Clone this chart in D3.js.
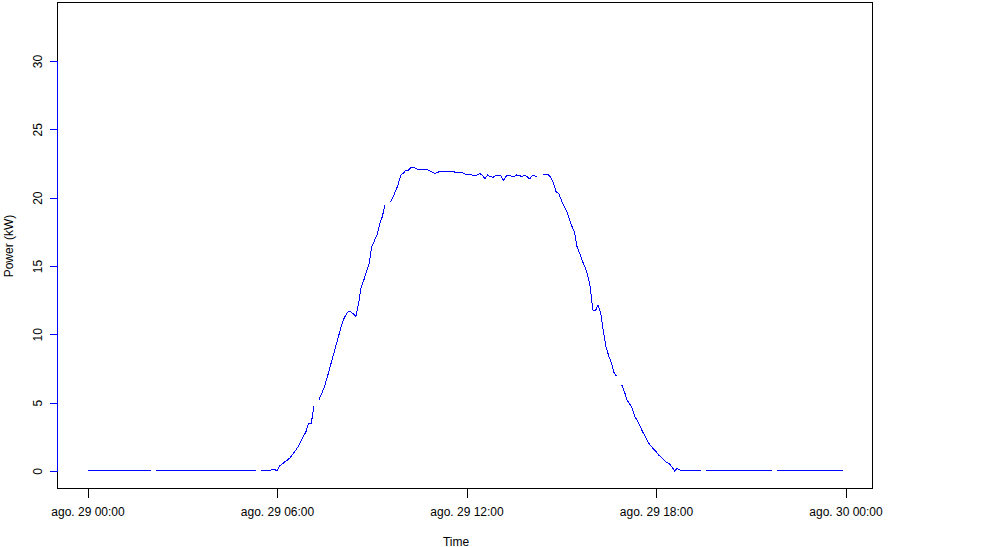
<!DOCTYPE html>
<html>
<head>
<meta charset="utf-8">
<script src="https://cdn.jsdelivr.net/npm/d3@7"></script>
<style>
  html, body { margin: 0; padding: 0; background: #fff; }
  svg { display: block; }
  text { font-family: "Liberation Sans", Arial, sans-serif; }
</style>
</head>
<body>
<svg id="chart" width="988" height="547"></svg>
<script>
// ---- data: 5-minute power readings (kW) for ago. 29, null = missing ----
const startTime = new Date(2019, 7, 29, 0, 0);
const stepMinutes = 5;
const power = [
  // 00h
  0,0,0,0,0,0,0,0,0,0,0,0,
  // 01h
  0,0,0,0,0,0,0,0,0,0,0,0,
  // 02h
  0,null,0,0,0,0,0,0,0,0,0,0,
  // 03h
  0,0,0,0,0,0,0,0,0,0,0,0,
  // 04h
  0,0,0,0,0,0,0,0,0,0,0,0,
  // 05h
  0,0,0,0,0,null,0,0,0,0,0.1,0.12,
  // 06h
  0,0.37,0.51,0.68,0.8,0.98,1.24,1.49,1.78,2.15,2.51,2.88,
  // 07h
  3.49,3.46,4.72,null,5.24,5.68,6.17,6.8,7.5,8.2,8.9,9.6,
  // 08h
  10.3,10.97,11.37,11.66,11.64,11.49,11.29,12.27,13.49,13.98,14.58,15.2,
  // 09h
  16.41,16.85,17.27,18.07,18.61,19.46,null,19.66,20.0,20.49,20.93,21.66,
  // 10h
  21.78,22.02,22.02,22.22,22.22,22.1,22.07,22.07,22.07,22.07,21.97,21.85,
  // 11h
  21.78,21.83,21.95,21.88,21.95,21.9,21.95,21.9,21.85,21.85,21.85,21.78,
  // 12h
  21.66,21.7,21.66,21.61,21.66,21.76,21.66,21.37,21.66,21.54,21.49,21.59,
  // 13h
  21.66,21.61,21.24,21.58,21.61,21.58,21.54,21.66,21.63,21.54,21.63,21.54,
  // 14h
  21.37,21.63,21.58,21.49,null,21.66,21.73,21.71,21.49,21.12,20.44,20.32,
  // 15h
  19.83,19.39,19.02,18.49,17.93,17.51,16.41,15.93,15.37,14.95,14.34,13.49,
  // 16h
  11.78,11.73,12.15,11.54,10.2,9.1,8.44,7.93,7.22,6.93,null,6.29,
  // 17h
  5.8,5.2,4.9,4.59,3.93,3.68,3.24,2.83,2.51,2.1,1.85,1.61,
  // 18h
  1.41,1.17,1.0,0.8,0.63,0.53,0.32,0,0.19,0.07,0,0,
  // 19h
  0,0,0,0,0,0,null,0,0,0,0,0,
  // 20h
  0,0,0,0,0,0,0,0,0,0,0,0,
  // 21h
  0,0,0,0,0,0,0,0,0,null,0,0,
  // 22h
  0,0,0,0,0,0,0,0,0,0,0,0,
  // 23h
  0,0,0,0,0,0,0,0,0,0,0,0
];
const yLimits = [0, 33];
const yTicks = [0, 5, 10, 15, 20, 25, 30];
const xTickDates = [
  new Date(2019, 7, 29, 0, 0),
  new Date(2019, 7, 29, 6, 0),
  new Date(2019, 7, 29, 12, 0),
  new Date(2019, 7, 29, 18, 0),
  new Date(2019, 7, 30, 0, 0)
];
const xTickLabels = ["ago. 29 00:00", "ago. 29 06:00", "ago. 29 12:00", "ago. 29 18:00", "ago. 30 00:00"];
const xLabel = "Time";
const yLabel = "Power (kW)";

// ---- build ----
const data = power.map((v, i) => ({ t: new Date(startTime.getTime() + i * stepMinutes * 60000), v }));

const svg = d3.select("#chart");
const box = { left: 57.5, right: 872.5, top: 2.5, bottom: 488.5 };

const tMin = data[0].t.getTime(), tMax = data[data.length - 1].t.getTime();
const tExt = (tMax - tMin) * 0.04;
const x = d3.scaleTime()
  .domain([new Date(tMin - tExt), new Date(tMax + tExt)])
  .range([57.3, 873.1]);

const yExt = (yLimits[1] - yLimits[0]) * 0.04;
const y = d3.scaleLinear()
  .domain([yLimits[0] - yExt, yLimits[1] + yExt])
  .range([489, 2]);

// data line
const line = d3.line()
  .defined(d => d.v !== null)
  .x(d => x(d.t))
  .y(d => y(d.v));

svg.append("path")
  .datum(data)
  .attr("d", line)
  .attr("fill", "none")
  .attr("stroke", "#0000ff")
  .attr("stroke-width", 1)
  .attr("shape-rendering", "crispEdges");

// box
svg.append("rect")
  .attr("x", box.left).attr("y", box.top)
  .attr("width", box.right - box.left).attr("height", box.bottom - box.top)
  .attr("fill", "none").attr("stroke", "#000").attr("stroke-width", 1)
  .attr("shape-rendering", "crispEdges");

// x axis
const xAxis = d3.axisBottom(x)
  .tickValues(xTickDates)
  .tickFormat((d, i) => xTickLabels[i])
  .tickSize(9)
  .tickSizeOuter(0);
const gx = svg.append("g")
  .attr("transform", `translate(0,${box.bottom})`)
  .call(xAxis);
gx.select(".domain").remove();
gx.selectAll(".tick line").attr("stroke", "#000").attr("shape-rendering", "crispEdges");
gx.selectAll(".tick text")
  .attr("y", 27.5).attr("dy", 0)
  .attr("fill", "#000")
  .style("font-size", "12px")
  .style("font-family", "'Liberation Sans', Arial, sans-serif");

// y axis (blue axis line and ticks, black labels)
const yAxis = d3.axisLeft(y)
  .tickValues(yTicks)
  .tickFormat(d3.format("d"))
  .tickSize(7.5)
  .tickSizeOuter(0);
const gy = svg.append("g")
  .attr("transform", `translate(${box.left},0)`)
  .call(yAxis);
gy.select(".domain").remove();
gy.append("line")
  .attr("x1", 0).attr("x2", 0)
  .attr("y1", y(yTicks[0])).attr("y2", y(yTicks[yTicks.length - 1]))
  .attr("stroke", "#0000ff")
  .attr("shape-rendering", "crispEdges");
gy.selectAll(".tick line").attr("stroke", "#0000ff").attr("shape-rendering", "crispEdges");
gy.selectAll(".tick text")
  .attr("x", null).attr("dy", null)
  .attr("transform", "translate(-16,0) rotate(-90)")
  .attr("text-anchor", "middle")
  .attr("fill", "#000")
  .style("font-size", "12px")
  .style("font-family", "'Liberation Sans', Arial, sans-serif");

// axis titles
svg.append("text")
  .attr("x", 456).attr("y", 545.5)
  .attr("text-anchor", "middle")
  .style("font-size", "12px")
  .text(xLabel);

svg.append("text")
  .attr("transform", "translate(12.5,246) rotate(-90)")
  .attr("text-anchor", "middle")
  .style("font-size", "12px")
  .text(yLabel);
</script>
</body>
</html>
